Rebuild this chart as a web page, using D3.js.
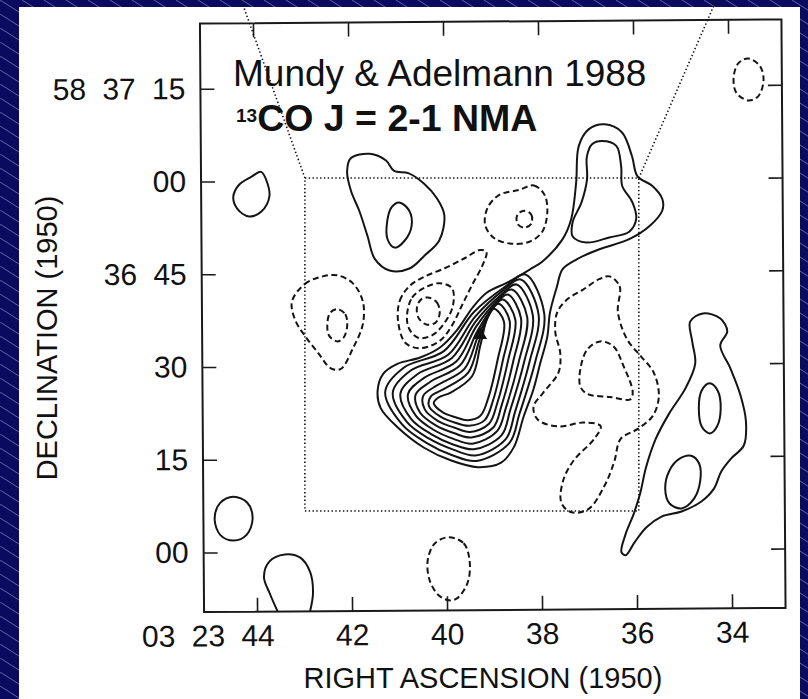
<!DOCTYPE html>
<html><head><meta charset="utf-8">
<script src="https://cdn.jsdelivr.net/npm/d3@7"></script>
<style>
body{margin:0;background:#0a0a5f;}
svg{display:block;}
text{font-family:"Liberation Sans",Arial,Helvetica,sans-serif;fill:#111;}
</style>
</head><body>
<svg id="chart" width="808" height="699"></svg>
<script>
// ---- axis ticks (RA seconds of 03h23m, Dec arcsec above 58d36m00s) ----
const raTicks = [44, 42, 40, 38, 36, 34];
const raLabels = ["03 23 44", "42", "40", "38", "36", "34"];
const decTicks = [75, 60, 45, 30, 15, 0];
const decLabels = ["58 37 15", "00", "36 45", "30", "15", "00"];

// ---- contours [RA s, Dec arcsec] ----
// positive (solid)
const posB = [[43.85,61.5],[43.73,59.9],[43.68,57.5],[43.85,55.1],[44.11,54.3],[44.36,55.6],[44.44,57.5],[44.32,59.4],[44.06,60.7]];
const posC = [[41.96,63.6],[41.56,64.3],[41.22,63.2],[41.05,61.5],[40.74,61.1],[40.42,59.4],[40.15,57.0],[40.00,54.3],[40.11,50.2],[40.42,47.8],[40.74,45.7],[41.16,45.4],[41.47,47.3],[41.62,51.0],[41.79,55.1],[41.96,58.3],[42.04,61.5]];
const posD = [[40.95,56.4],[40.74,55.1],[40.69,52.6],[40.84,50.2],[41.05,49.1],[41.20,50.5],[41.20,53.5],[41.11,55.6]];
const posG = [[36.67,66.1],[36.37,65.3],[36.27,62.0],[36.25,58.8],[36.04,56.2],[35.96,53.5],[36.11,51.4],[36.53,50.5],[37.01,49.7],[37.30,50.7],[37.30,53.0],[37.11,56.2],[36.99,59.9],[36.99,63.6],[36.88,65.6]];
const posH = [[36.61,68.8],[36.25,67.5],[36.04,63.6],[35.93,60.4],[35.62,58.8],[35.41,56.7],[35.41,54.8],[35.68,52.3],[36.11,50.2],[36.74,48.6],[37.22,47.0],[37.52,45.4],[37.64,42.6],[37.79,38.4],[37.85,34.5],[38.00,30.3],[38.15,26.0],[38.36,21.6],[38.57,16.7],[38.84,14.2],[39.33,13.5],[39.89,14.6],[40.46,16.7],[41.01,20.0],[41.37,23.2],[41.43,26.0],[41.31,28.7],[41.01,30.3],[40.53,31.3],[40.11,32.9],[39.75,35.7],[39.41,39.4],[39.12,41.7],[38.69,43.3],[38.21,45.4],[37.94,46.7],[37.52,50.2],[37.33,53.5],[37.22,59.4],[37.16,65.3],[36.95,68.0]];
const posC2 = [[38.30,44.6],[37.91,38.2],[38.11,30.4],[38.45,22.0],[38.66,17.4],[39.36,14.5],[39.88,15.5],[40.41,17.5],[40.92,20.5],[41.27,25.8],[40.87,29.7],[40.03,32.3],[39.39,38.6],[38.74,42.6]];
const posC3 = [[38.40,43.8],[38.03,38.1],[38.23,30.4],[38.54,22.4],[38.74,18.0],[39.38,15.4],[39.86,16.4],[40.36,18.2],[40.82,20.9],[41.11,25.7],[40.73,29.2],[39.94,31.7],[39.37,37.8],[38.80,41.9]];
const posC4 = [[38.49,43.0],[38.15,37.9],[38.34,30.5],[38.64,22.7],[38.83,18.6],[39.41,16.4],[39.85,17.2],[40.31,18.9],[40.73,21.4],[40.95,25.5],[40.59,28.6],[39.86,31.2],[39.35,37.1],[38.85,41.1]];
const posC5 = [[38.59,42.2],[38.27,37.7],[38.45,30.6],[38.73,23.1],[38.92,19.3],[39.44,17.3],[39.84,18.1],[40.26,19.6],[40.63,21.9],[40.79,25.4],[40.45,28.0],[39.77,30.6],[39.34,36.3],[38.90,40.4]];
const posC6 = [[38.68,41.4],[38.40,37.5],[38.57,30.6],[38.82,23.5],[39.00,19.9],[39.46,18.3],[39.82,19.0],[40.21,20.3],[40.54,22.4],[40.63,25.3],[40.31,27.4],[39.69,30.0],[39.32,35.5],[38.95,39.7]];
const posC7 = [[38.78,40.6],[38.52,37.3],[38.68,30.7],[38.91,23.9],[39.09,20.5],[39.49,19.2],[39.81,19.9],[40.16,21.0],[40.44,22.9],[40.47,25.1],[40.17,26.8],[39.60,29.4],[39.30,34.8],[39.01,39.0]];
const posC8 = [[38.87,39.9],[38.64,37.1],[38.79,30.7],[39.00,24.3],[39.18,21.1],[39.51,20.2],[39.80,20.7],[40.11,21.7],[40.35,23.4],[40.31,25.0],[40.03,26.2],[39.52,28.8],[39.28,34.0],[39.06,38.3]];
const posC9 = [[38.97,39.1],[38.76,37.0],[38.90,30.8],[39.10,24.7],[39.27,21.8],[39.54,21.1],[39.79,21.6],[40.06,22.4],[40.25,23.9],[40.15,24.8],[39.89,25.6],[39.44,28.2],[39.26,33.2],[39.11,37.6]];
const posP = [[34.84,36.8],[34.57,38.1],[34.21,37.3],[34.06,35.2],[34.21,32.9],[34.00,29.2],[33.79,24.8],[33.68,20.6],[33.73,16.7],[34.00,14.6],[34.21,12.5],[34.36,9.8],[34.63,7.7],[35.05,6.1],[35.47,5.3],[35.79,3.6],[36.04,1.2],[36.23,-0.9],[36.32,-0.4],[36.23,2.5],[36.06,5.7],[35.92,9.0],[35.79,13.3],[35.58,17.9],[35.30,21.9],[34.95,26.0],[34.74,30.0],[34.80,33.6]];
const posQ = [[34.44,26.8],[34.27,25.6],[34.21,22.7],[34.29,19.8],[34.44,18.7],[34.61,19.8],[34.67,22.7],[34.61,25.6]];
const posR = [[34.84,15.1],[34.67,13.8],[34.65,11.1],[34.78,8.2],[35.05,6.6],[35.30,7.4],[35.39,9.8],[35.30,12.7],[35.09,14.6]];
const posT = [[44.48,9.0],[44.19,8.0],[44.08,5.4],[44.21,2.8],[44.48,1.9],[44.76,2.8],[44.88,5.4],[44.76,8.0]];
const posU = [[43.52,-10.4],[43.73,-6.7],[43.85,-4.0],[43.73,-1.5],[43.41,-0.4],[43.09,-0.9],[42.88,-3.2],[42.82,-6.7],[42.91,-10.4]];
// negative (dashed)
const negA = [[33.58,79.3],[33.33,78.0],[33.26,75.8],[33.37,73.2],[33.58,72.5],[33.83,73.7],[33.89,76.1],[33.79,78.5]];
const negE = [[38.42,58.3],[38.11,59.0],[37.89,57.5],[37.83,54.8],[37.94,51.5],[38.21,49.9],[38.59,49.6],[38.95,50.5],[39.14,52.6],[39.09,55.4],[38.84,57.5]];
const negF = [[38.32,54.9],[38.17,54.3],[38.17,52.8],[38.32,52.2],[38.46,52.8],[38.46,54.3]];
const negI = [[40.99,37.3],[40.95,40.5],[40.74,42.9],[40.42,44.4],[40.00,45.7],[39.58,47.3],[39.26,48.6],[39.12,48.3],[39.20,46.2],[39.43,42.9],[39.64,39.7],[39.85,36.5],[40.11,34.0],[40.53,32.8],[40.84,33.7]];
const negJ = [[40.80,38.1],[40.69,41.0],[40.42,42.6],[40.11,43.3],[39.85,42.5],[39.83,39.7],[40.00,37.0],[40.27,34.9],[40.57,34.5],[40.76,36.0]];
const negK = [[40.36,41.0],[40.17,40.2],[40.11,38.6],[40.19,37.0],[40.38,36.6],[40.55,37.6],[40.59,39.4],[40.50,40.7]];
const negL = [[43.22,40.5],[42.95,43.3],[42.63,44.4],[42.27,44.7],[41.94,43.4],[41.73,40.5],[41.73,36.8],[41.94,32.9],[42.21,29.5],[42.42,29.7],[42.67,32.1],[42.95,34.9],[43.16,37.6]];
const negM = [[42.27,39.2],[42.10,38.4],[42.06,36.6],[42.13,34.7],[42.27,34.0],[42.44,34.9],[42.48,36.6],[42.42,38.6]];
const negN = [[36.53,44.2],[36.32,42.6],[36.36,38.4],[36.17,34.0],[35.89,31.3],[35.62,28.7],[35.51,24.8],[35.64,21.6],[35.96,19.5],[36.32,17.9],[36.46,14.2],[36.67,10.3],[37.01,6.6],[37.37,6.1],[37.58,7.7],[37.53,11.4],[37.30,14.6],[36.88,17.9],[36.74,20.0],[37.09,20.6],[37.64,20.0],[38.06,21.1],[38.15,23.2],[37.94,25.5],[37.62,28.7],[37.58,31.9],[37.68,35.2],[37.64,38.4],[37.43,40.5],[37.09,42.1],[36.74,43.8]];
const negO = [[36.74,33.7],[36.46,32.9],[36.25,29.7],[36.06,25.5],[36.11,24.3],[36.53,24.7],[37.01,25.2],[37.16,26.4],[37.16,29.2],[37.01,32.4]];
const negS = [[39.96,2.2],[39.64,1.2],[39.52,-1.5],[39.56,-5.1],[39.79,-7.7],[39.96,-8.0],[40.17,-7.2],[40.36,-4.8],[40.40,-1.5],[40.25,1.2]];

const positiveClosed = [posB, posC, posD, posG, posH, posC2, posC3, posC4, posC5, posC6, posC7, posC8, posC9, posP, posQ, posR, posT];
const positiveOpen = [posU];
const negativeClosed = [negA, negE, negF, negI, negJ, negK, negL, negM, negN, negO, negS];

const peak = [39.26, 34.85];
const zoomBox = [[42.95, 60.24], [35.92, 6.39]];       // [RA, Dec] corners
const connectors = [[[42.95, 60.24], [44.29, 89.03]], [[35.92, 60.24], [34.29, 89.03]]];

// ---- drawing ----
const W = 808, H = 699;
const svg = d3.select("#chart");
const defs = svg.append("defs");
const pat = defs.append("pattern").attr("id", "stripes")
  .attr("patternUnits", "userSpaceOnUse").attr("width", 22).attr("height", 14);
pat.append("rect").attr("width", 22).attr("height", 14).attr("fill", "#0a0a5f");
pat.append("path").attr("d", "M-2,-1.27L24,15.27").attr("stroke", "#6c6cb2").attr("stroke-width", 0.9);

svg.append("rect").attr("width", W).attr("height", H).attr("fill", "url(#stripes)");
svg.append("rect").attr("x", 19).attr("y", 7).attr("width", 781).attr("height", 700).attr("fill", "#fff");

const x = d3.scaleLinear().domain([45.116, 32.874]).range([202, 783.5]);
const y = d3.scaleLinear().domain([-9.62, 85.56]).range([610, 21.5]);
const [x0, x1] = x.range(), [y0, y1] = y.range();

defs.append("clipPath").attr("id", "plotclip").append("rect")
  .attr("x", x0).attr("y", y1).attr("width", x1 - x0).attr("height", y0 - y1);

const plot = svg.append("g").attr("transform", "rotate(-0.4 492 316)");

const lineClosed = d3.line().x(d => x(d[0])).y(d => y(d[1])).curve(d3.curveCatmullRomClosed.alpha(0.5));
const lineOpen = d3.line().x(d => x(d[0])).y(d => y(d[1])).curve(d3.curveCatmullRom.alpha(0.5));

const cg = plot.append("g").attr("clip-path", "url(#plotclip)").attr("fill", "none")
  .attr("stroke", "#141414").attr("stroke-width", 2).attr("stroke-linejoin", "round");
cg.selectAll("path.pos").data(positiveClosed).join("path").attr("class", "pos").attr("d", lineClosed);
cg.selectAll("path.posopen").data(positiveOpen).join("path").attr("class", "posopen").attr("d", lineOpen);
cg.selectAll("path.neg").data(negativeClosed).join("path").attr("class", "neg")
  .attr("d", lineClosed).attr("stroke-dasharray", "6,3.5");

plot.append("path").attr("d", d3.symbol(d3.symbolTriangle, 80)())
  .attr("transform", `translate(${x(peak[0])},${y(peak[1])})`).attr("fill", "#111");

// frame
plot.append("rect").attr("x", x0).attr("y", y1).attr("width", x1 - x0).attr("height", y0 - y1)
  .attr("fill", "none").attr("stroke", "#1a1a1a").attr("stroke-width", 2);

function styleAxis(g) {
  g.select(".domain").remove();
  g.selectAll(".tick line").attr("stroke", "#1a1a1a").attr("stroke-width", 1.6);
  g.selectAll(".tick text").attr("font-size", 30).attr("fill", "#111")
    .attr("font-family", "'Liberation Sans',Arial,sans-serif").style("word-spacing", "8px");
}
plot.append("g").attr("transform", `translate(0,${y0})`)
  .call(d3.axisBottom(x).tickValues(raTicks).tickSize(-14).tickSizeOuter(0).tickPadding(13)
    .tickFormat((d, i) => raLabels[i]))
  .call(styleAxis)
  .call(g => g.selectAll(".tick text").filter((d, i) => i === 0).attr("text-anchor", "end").attr("x", 17));
plot.append("g").attr("transform", `translate(0,${y1})`)
  .call(d3.axisTop(x).tickValues(raTicks).tickSize(-14).tickSizeOuter(0).tickFormat(""))
  .call(styleAxis);
plot.append("g").attr("transform", `translate(${x0},0)`)
  .call(d3.axisLeft(y).tickValues(decTicks).tickSize(-14).tickSizeOuter(0).tickPadding(15)
    .tickFormat((d, i) => decLabels[i]))
  .call(styleAxis);
plot.append("g").attr("transform", `translate(${x1},0)`)
  .call(d3.axisRight(y).tickValues(decTicks).tickSize(-14).tickSizeOuter(0).tickFormat(""))
  .call(styleAxis);

// axis titles
svg.append("text").attr("x", 483).attr("y", 688).attr("text-anchor", "middle")
  .attr("font-size", 29).text("RIGHT ASCENSION (1950)");
svg.append("text").attr("transform", "translate(57,338) rotate(-90)").attr("text-anchor", "middle")
  .attr("font-size", 29).text("DECLINATION (1950)");

// annotation
svg.append("text").attr("x", 233).attr("y", 86).attr("font-size", 37).text("Mundy & Adelmann 1988");
const t2 = svg.append("text").attr("x", 236).attr("y", 131).attr("font-weight", "bold");
t2.append("tspan").attr("font-size", 19).attr("dy", -9).text("13");
t2.append("tspan").attr("font-size", 37.5).attr("dy", 9).text("CO J = 2-1 NMA");

// dotted zoom box and connectors
const ov = svg.append("g").attr("fill", "none").attr("stroke", "#111")
  .attr("stroke-width", 1.6).attr("stroke-dasharray", "1.4,2.4");
ov.append("rect").attr("x", x(zoomBox[0][0])).attr("y", y(zoomBox[0][1]))
  .attr("width", x(zoomBox[1][0]) - x(zoomBox[0][0])).attr("height", y(zoomBox[1][1]) - y(zoomBox[0][1]));
ov.selectAll("line.con").data(connectors).join("line").attr("class", "con")
  .attr("x1", d => x(d[0][0])).attr("y1", d => y(d[0][1]))
  .attr("x2", d => x(d[1][0])).attr("y2", d => y(d[1][1]));
</script>
</body></html>
